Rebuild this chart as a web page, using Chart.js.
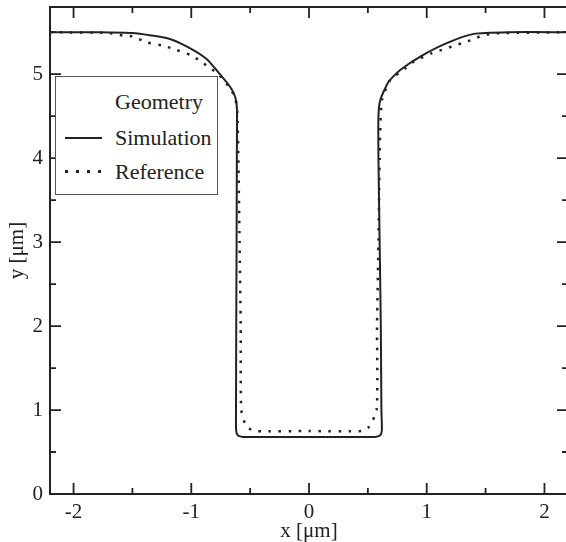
<!DOCTYPE html>
<html>
<head>
<meta charset="utf-8">
<script src="https://cdn.jsdelivr.net/npm/chart.js@4/dist/chart.umd.min.js"></script>
<style>
    html, body { margin: 0; padding: 0; background: #fff; overflow: hidden; }
    #wrap { position: relative; width: 568px; height: 542px; }
    #legend {
        position: absolute; left: 55px; top: 76px; width: 163px; height: 119px;
        box-sizing: border-box; border: 1px solid #555; background: #fff;
        font-family: 'Liberation Serif', 'DejaVu Serif', serif; font-size: 22px; color: #222;
    }
    #legend .row { position: absolute; left: 0; width: 100%; height: 24px; line-height: 24px; }
    #legend .label { position: absolute; left: 59px; }
    #legend .sample { position: absolute; left: 9px; width: 37px; top: 11px; }
    #legend .solid { border-top: 2px solid #222; }
    #legend .dotted {
        height: 3px; top: 10px; width: 36px;
        background: repeating-linear-gradient(to right, #222 0 3px, transparent 3px 11px);
    }
</style>
</head>
<body>
<div id="wrap">
    <canvas id="profileChart"></canvas>
    <div id="legend">
        <div class="row" style="top:13px"><span class="label">Geometry</span></div>
        <div class="row" style="top:49px"><span class="sample solid"></span><span class="label">Simulation</span></div>
        <div class="row" style="top:83px"><span class="sample dotted"></span><span class="label">Reference</span></div>
    </div>
</div>
<script>
// simulated trench profile (x, y in µm)
const simX = [-2.2, -1.8, -1.5, -1.21, -1.04, -0.87, -0.775, -0.67, -0.625, -0.612, -0.613, -0.615, -0.618, -0.62, -0.619, -0.605, -0.56,
    0, 0.56, 0.605, 0.619, 0.615, 0.61, 0.6, 0.59, 0.59, 0.605, 0.676, 0.775, 0.945, 1.17, 1.4, 1.7, 2.2];
const simY = [5.5, 5.5, 5.49, 5.43, 5.33, 5.18, 5.03, 4.85, 4.72, 4.58, 4.0, 3.0, 2.0, 1.0, 0.76, 0.7, 0.68,
    0.68, 0.68, 0.7, 0.76, 1.0, 2.0, 3.0, 4.0, 4.5, 4.69, 4.91, 5.05, 5.21, 5.37, 5.48, 5.5, 5.5];

// reference profile
const refX = [-2.2, -1.7, -1.58, -1.5, -1.38, -1.24, -1.13, -1.01, -0.914, -0.84, -0.775, -0.67, -0.63, -0.61, -0.6, -0.59, -0.58, -0.575, -0.53, -0.45,
    0, 0.45, 0.51, 0.575, 0.578, 0.59, 0.6, 0.605, 0.62, 0.69, 0.82, 0.89, 1.045, 1.13, 1.215, 1.3, 1.385, 1.47, 1.556, 1.64, 2.2];
const refY = [5.5, 5.49, 5.46, 5.45, 5.38, 5.34, 5.29, 5.23, 5.15, 5.07, 5.01, 4.83, 4.73, 4.57, 4.0, 3.0, 2.0, 1.0, 0.8, 0.75,
    0.75, 0.75, 0.8, 1.0, 2.0, 3.0, 4.0, 4.3, 4.69, 4.93, 5.07, 5.15, 5.25, 5.29, 5.33, 5.37, 5.41, 5.46, 5.48, 5.49, 5.5];

const xRange = [-2.2, 2.2];
const yRange = [0, 5.8];
const tickStep = 0.5;

const serif = "'Liberation Serif', 'DejaVu Serif', serif";
const ink = '#222';

const toPoints = (xs, ys) => xs.map((x, i) => ({ x: x, y: ys[i] }));
const isMajor = v => Math.abs(v - Math.round(v)) < 1e-6;

// frame on all four sides with inward ticks
const frameTicks = {
    id: 'frameTicks',
    afterDraw(chart) {
        const { ctx, chartArea: a, scales } = chart;
        ctx.save();
        ctx.strokeStyle = ink;
        ctx.lineWidth = 2;
        ctx.strokeRect(a.left, a.top, a.right - a.left, a.bottom - a.top);
        ctx.lineWidth = 1.8;
        ctx.beginPath();
        scales.x.ticks.forEach(t => {
            const px = scales.x.getPixelForValue(t.value);
            const len = isMajor(t.value) ? 11 : 6;
            ctx.moveTo(px, a.bottom);
            ctx.lineTo(px, a.bottom - len);
            ctx.moveTo(px, a.top);
            ctx.lineTo(px, a.top + len);
        });
        scales.y.ticks.forEach(t => {
            const py = scales.y.getPixelForValue(t.value);
            const len = isMajor(t.value) ? 11 : 6;
            ctx.moveTo(a.left, py);
            ctx.lineTo(a.left + len, py);
            ctx.moveTo(a.right, py);
            ctx.lineTo(a.right - len, py);
        });
        ctx.stroke();
        ctx.restore();
    }
};

new Chart(document.getElementById('profileChart').getContext('2d'), {
    type: 'scatter',
    data: {
        datasets: [
            {
                label: 'Simulation',
                data: toPoints(simX, simY),
                showLine: true,
                borderColor: ink,
                borderWidth: 2,
                pointRadius: 0,
                tension: 0.2
            },
            {
                label: 'Reference',
                data: toPoints(refX, refY),
                showLine: true,
                borderColor: ink,
                borderWidth: 2.5,
                borderDash: [2.5, 7.5],
                pointRadius: 0,
                tension: 0.2
            }
        ]
    },
    plugins: [frameTicks],
    options: {
        responsive: true,
        maintainAspectRatio: false,
        animation: false,
        layout: { padding: { top: 7, right: 0, left: 0, bottom: 0 } },
        scales: {
            x: {
                type: 'linear',
                min: xRange[0],
                max: xRange[1],
                grid: { display: false, drawTicks: false },
                border: { display: false },
                ticks: {
                    stepSize: tickStep,
                    includeBounds: false,
                    autoSkip: false,
                    maxRotation: 0,
                    padding: 6,
                    color: ink,
                    font: { family: serif, size: 21 },
                    callback: v => isMajor(v) ? String(Math.round(v)) : ''
                },
                title: {
                    display: true,
                    text: 'x [μm]',
                    color: ink,
                    font: { family: serif, size: 21, lineHeight: 1 },
                    padding: { top: 0, bottom: 0 }
                },
                afterFit: scale => {
                    scale.height = 48;
                    scale.paddingLeft = 0;
                    scale.paddingRight = 0;
                }
            },
            y: {
                type: 'linear',
                min: yRange[0],
                max: yRange[1],
                grid: { display: false, drawTicks: false },
                border: { display: false },
                ticks: {
                    stepSize: tickStep,
                    includeBounds: false,
                    autoSkip: false,
                    padding: 7,
                    color: ink,
                    font: { family: serif, size: 21 },
                    callback: v => isMajor(v) ? String(Math.round(v)) : ''
                },
                title: {
                    display: true,
                    text: 'y [μm]',
                    color: ink,
                    font: { family: serif, size: 21, lineHeight: 1 },
                    padding: { top: 7, bottom: 0 }
                },
                afterFit: scale => {
                    scale.width = 50;
                    scale.paddingTop = 0;
                    scale.paddingBottom = 0;
                }
            }
        },
        plugins: {
            legend: { display: false },
            tooltip: { enabled: false }
        }
    }
});
</script>
</body>
</html>
